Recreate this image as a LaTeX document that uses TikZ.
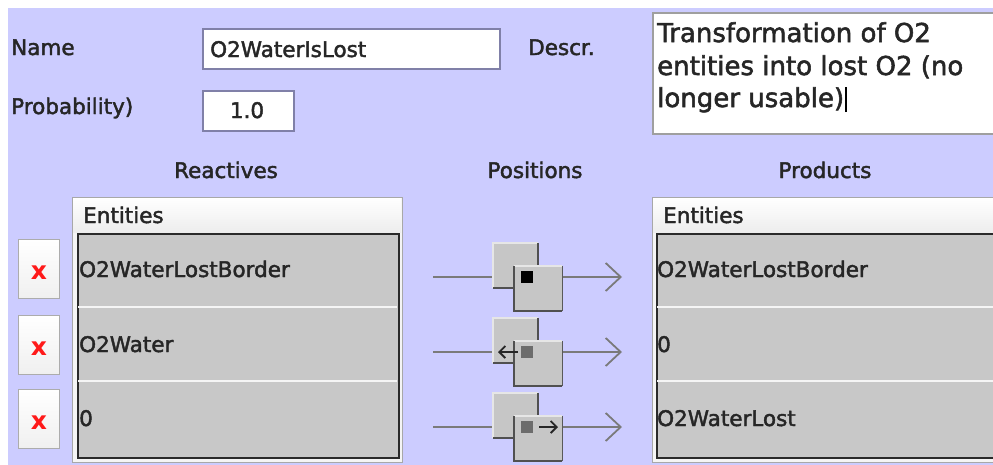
\documentclass[tikz,border=0pt]{standalone}
\usepackage{fontspec}
\setmainfont[FakeBold=2]{DejaVu Sans}
\newfontfamily\boldx{DejaVu Sans Bold}
\usetikzlibrary{arrows.meta}
\definecolor{lav}{HTML}{CCCCFF}
\definecolor{txt}{HTML}{262626}
\definecolor{fieldline}{HTML}{8080A8}
\definecolor{cellgray}{HTML}{C8C8C8}
\definecolor{sqgray}{HTML}{C6C6C6}
\definecolor{sqdark}{HTML}{505050}
\definecolor{sqlight}{HTML}{E6E6E6}
\definecolor{wirecol}{HTML}{7A7A7A}
\definecolor{xred}{HTML}{FF1A1A}
\definecolor{tblline}{HTML}{A8A8A8}
\definecolor{tblinner}{HTML}{2A2A2A}
\tikzset{
  lbl/.style={font=\fontsize{21.5}{26}\selectfont, text=txt, inner sep=0pt, anchor=base west},
  lblc/.style={lbl, anchor=base},
  desc/.style={font=\fontsize{26}{32.5}\selectfont, text=txt, inner sep=0pt, anchor=base west},
  field/.style={draw=fieldline, line width=1.6pt, fill=white, inner sep=0pt, anchor=north west},
  xbtn/.style={draw=gray!65, line width=1pt, top color=white, bottom color=gray!12, anchor=north west,
    inner sep=0pt, minimum width=41pt, minimum height=59pt},
  xmark/.style={font=\fontsize{25}{28}\boldx, text=xred, inner sep=0pt},
  sqbox/.style={fill=sqgray, inner sep=0pt, anchor=north west, minimum width=45pt, minimum height=45pt},
  sqhi/.style={draw=sqlight, line width=1.2pt},
  sqsh/.style={draw=sqdark, line width=2pt},
  wire/.style={draw=wirecol, line width=1.8pt},
  wirearrow/.style={wire, -{Straight Barb[length=15pt,width=28pt,line width=1.8pt]}},
  minarrow/.style={draw=txt, line width=1.8pt, -{Straight Barb[length=6pt,width=12pt]}},
  markbox/.style={inner sep=0pt, minimum width=12pt, minimum height=12pt},
  sepline/.style={draw=white!92!gray, line width=2pt},
}
\begin{document}
\begin{tikzpicture}[x=1pt,y=-1pt]
\useasboundingbox (0,0) rectangle (993,464);
\clip (0,0) rectangle (993,464);
\fill[white] (0,0) rectangle (993,464);
\fill[lav] (8,8) rectangle (1000,470);

% ---- top fields
\node[lbl] (namelbl) at (11,55) {Name};
\node[field, minimum width=297pt, minimum height=40pt] (namebox) at (202,28) {};
\node[lbl] (nametxt) at (210,57) {O2WaterIsLost};
\node[lbl] (problbl) at (11,114) {Probability)};
\node[field, minimum width=91pt, minimum height=40pt] (probbox) at (202,90) {};
\node[lblc] (probtxt) at (247,118) {1.0};
\node[lbl] (desclbl) at (528,55) {Descr.};
\node[field, draw=gray!75, line width=1.5pt, minimum width=360pt, minimum height=121pt] (descbox) at (652,12) {};
\node[desc] (desc1) at (657,42) {Transformation of O2};
\node[desc] (desc2) at (657,75) {entities into lost O2 (no};
\node[desc] (desc3) at (657,107) {longer usable)};
\draw[black, line width=1.5pt] ([xshift=1.5pt,yshift=-5pt]desc3.base east) -- ([xshift=1.5pt,yshift=20pt]desc3.base east);

% ---- column titles
\node[lblc] (reactlbl) at (226,178) {Reactives};
\node[lblc] (poslbl) at (535,178) {Positions};
\node[lblc] (prodlbl) at (825,178) {Products};

% ---- left table
\node[draw=tblline, fill=gray!8, line width=1pt, inner sep=0pt, anchor=north west,
  minimum width=330pt, minimum height=265pt] (ltable) at (72,197) {};
\fill[top color=white, bottom color=gray!14] (73,198) rectangle (401,232);
\node[lbl] (lhead) at (83,223) {Entities};
\node[draw=tblinner, fill=cellgray, line width=1.6pt, inner sep=0pt, anchor=north west,
  minimum width=321pt, minimum height=224pt] (linner) at (77,233) {};
\draw[sepline] (78,307) -- (397,307);
\draw[sepline] (78,381) -- (397,381);
\node[lbl] (lr1) at (79,277) {O2WaterLostBorder};
\node[lbl] (lr2) at (79,352) {O2Water};
\node[lbl] (lr3) at (79,426) {0};

% ---- delete buttons
\node[xbtn] (x1) at (18,239) {};
\node[xmark] at ([yshift=-4pt]x1.center) {x};
\node[xbtn] (x2) at (18,315) {};
\node[xmark] at ([yshift=-4pt]x2.center) {x};
\node[xbtn] (x3) at (18,389) {};
\node[xmark] at ([yshift=-4pt]x3.center) {x};

% ---- right table
\node[draw=tblline, fill=gray!8, line width=1pt, inner sep=0pt, anchor=north west,
  minimum width=360pt, minimum height=265pt] (rtable) at (652,197) {};
\fill[top color=white, bottom color=gray!14] (653,198) rectangle (1000,232);
\node[lbl] (rhead) at (663,223) {Entities};
\node[draw=tblinner, fill=cellgray, line width=1.6pt, inner sep=0pt, anchor=north west,
  minimum width=360pt, minimum height=224pt] (rinner) at (656,233) {};
\draw[sepline] (657,307) -- (1000,307);
\draw[sepline] (657,381) -- (1000,381);
\node[lbl] (rr1) at (657,277) {O2WaterLostBorder};
\node[lbl] (rr2) at (657,352) {0};
\node[lbl] (rr3) at (657,426) {O2WaterLost};

% ---- position widgets
\foreach \r/\n in {277/1,352/2,427/3}{
  \coordinate (in\n) at (433,\r);
  \coordinate (out\n) at (622,\r);
  \node[sqbox] (up\n) at (493,\r-34) {};
  \node[sqbox, minimum width=48pt] (lo\n) at (514,\r-11) {};
  \draw[wire] (in\n) -- (up\n.west |- in\n);
  \draw[wirearrow] (lo\n.east |- out\n) -- (out\n);
  \fill[sqgray] (up\n.south west) rectangle (up\n.north east);
  \draw[sqhi] (up\n.south west) -- (up\n.north west) -- (up\n.north east);
  \draw[sqsh] (up\n.north east) -- (up\n.south east) -- (up\n.south west);
  \fill[sqgray] (lo\n.south west) rectangle (lo\n.north east);
  \draw[sqhi] (lo\n.north west) -- (lo\n.north east);
  \draw[sqsh] (lo\n.north west) -- (lo\n.south west) -- (lo\n.south east);
  \draw[draw=gray!70!black, line width=1.2pt] (lo\n.south east) -- (lo\n.north east);
}
\node[markbox, fill=black] (m1) at (527,277) {};
\node[markbox, fill=gray!85!black] (m2) at (527,352) {};
\node[markbox, fill=gray!85!black] (m3) at (527,427) {};
\coordinate (a2s) at (518,352);
\coordinate (a2e) at (498,352);
\coordinate (a3s) at (539,427);
\coordinate (a3e) at (558,427);
\draw[minarrow] (a2s) -- (a2e);
\draw[minarrow] (a3s) -- (a3e);
\end{tikzpicture}
\end{document}
